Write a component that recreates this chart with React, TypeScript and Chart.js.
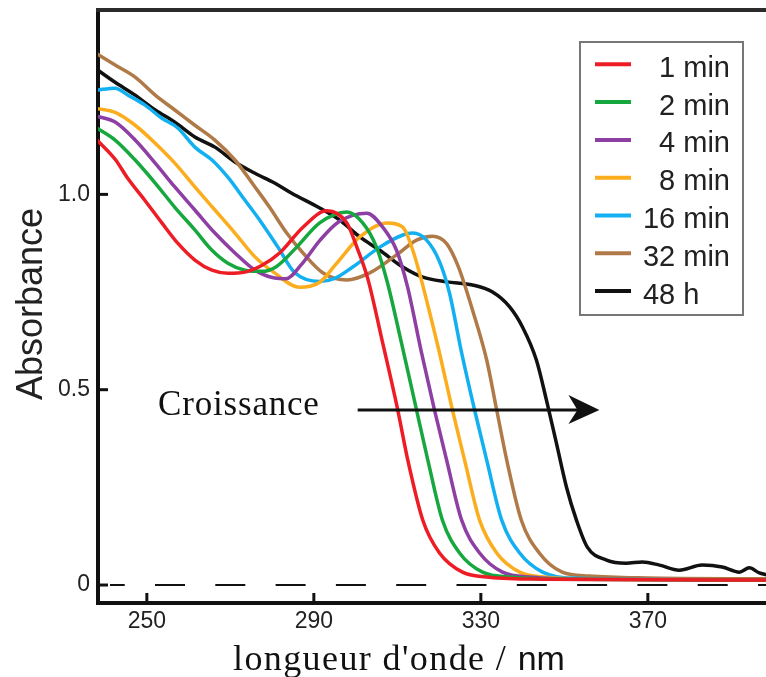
import React, { useEffect, useRef } from "react";
import { Chart, registerables } from "chart.js";

Chart.register(...registerables);

// ---- data ----
const seriesLabels = ["1 min", "2 min", "4 min", "8 min", "16 min", "32 min", "48 h"];
const seriesColors = ["#ee1c25", "#16a83e", "#8e3fa3", "#fbad1d", "#12b0f0", "#b07a48", "#111111"];

const wl1 = [238, 242.4, 245.5, 249.5, 253.6, 257.4, 261.5, 265.6, 269.4, 273.5, 277.5, 281.8, 287.4, 293.1, 297.9, 300.3, 302.9, 306.5, 310.1, 312.5, 316.1, 320.1, 325.6, 332, 345, 398.5];
const abs1 = [1.14, 1.09, 1.04, 0.985, 0.927, 0.875, 0.832, 0.806, 0.798, 0.801, 0.818, 0.85, 0.916, 0.958, 0.927, 0.865, 0.785, 0.619, 0.448, 0.32, 0.166, 0.082, 0.033, 0.02, 0.015, 0.013];

const wl2 = [238, 242.4, 247.2, 252, 256.7, 261.5, 265.6, 269.4, 273.5, 277.5, 281, 285.9, 291.4, 297.9, 301.7, 305, 307.6, 311, 314.6, 317.3, 320.8, 324.9, 330.4, 337.6, 350, 398.5];
const abs2 = [1.17, 1.139, 1.088, 1.029, 0.967, 0.909, 0.857, 0.824, 0.806, 0.803, 0.815, 0.865, 0.927, 0.955, 0.927, 0.865, 0.775, 0.619, 0.448, 0.32, 0.166, 0.082, 0.033, 0.02, 0.015, 0.013];

const wl3 = [238, 242.4, 247.2, 252, 256.7, 261.5, 266.3, 271.1, 275.9, 280.6, 283.3, 287, 291.5, 296, 302.7, 306.5, 309.8, 312.4, 315.8, 318.9, 321.8, 325.4, 329.7, 335.2, 342.4, 355, 398.5];
const abs3 = [1.2, 1.185, 1.139, 1.08, 1.019, 0.96, 0.901, 0.85, 0.806, 0.786, 0.784, 0.82, 0.883, 0.93, 0.952, 0.916, 0.857, 0.765, 0.594, 0.448, 0.32, 0.166, 0.082, 0.033, 0.02, 0.015, 0.013];

const wl4 = [238, 242.4, 247.2, 252, 256.7, 261.5, 266.3, 271.1, 275.9, 280.6, 286.6, 291.4, 295.5, 301, 307.5, 311.3, 313.7, 315.3, 317, 320.1, 323.2, 326.1, 329.7, 333.8, 339.3, 345.7, 358, 398.5];
const abs4 = [1.22, 1.21, 1.177, 1.131, 1.08, 1.019, 0.96, 0.901, 0.84, 0.799, 0.762, 0.775, 0.824, 0.891, 0.927, 0.916, 0.857, 0.799, 0.729, 0.594, 0.448, 0.32, 0.166, 0.082, 0.033, 0.02, 0.015, 0.013];

const wl5 = [238, 242.4, 245.5, 249.5, 253.6, 257.4, 261.5, 265.6, 269.4, 273.5, 277.5, 281.4, 285.4, 291.4, 295, 299.3, 305.8, 311.3, 313.7, 317, 320.1, 322.5, 325.4, 328.5, 331.4, 335, 339.3, 344.8, 352, 398.5];
const abs5 = [1.267, 1.272, 1.254, 1.229, 1.195, 1.17, 1.121, 1.088, 1.044, 0.985, 0.927, 0.865, 0.8, 0.777, 0.785, 0.814, 0.865, 0.896, 0.901, 0.883, 0.828, 0.747, 0.594, 0.448, 0.32, 0.166, 0.082, 0.033, 0.018, 0.013];

const wl6 = [238, 242.4, 247.2, 252, 256.7, 261.5, 266.3, 271.1, 275.9, 279.4, 283.5, 287.4, 292.2, 297.9, 303.4, 309.8, 314.6, 318.4, 321.8, 324.6, 328, 331.4, 333.8, 336.2, 339.7, 344, 349.5, 356, 370, 398.5];
const abs6 = [1.36, 1.331, 1.3, 1.254, 1.216, 1.177, 1.139, 1.088, 1.019, 0.967, 0.901, 0.85, 0.799, 0.781, 0.799, 0.845, 0.883, 0.893, 0.874, 0.815, 0.704, 0.576, 0.448, 0.32, 0.166, 0.082, 0.033, 0.023, 0.018, 0.016];

const wl7 = [238, 242.4, 247.2, 252, 256.7, 261.5, 266.3, 271.1, 275.9, 280.6, 284.7, 291.4, 296.2, 301, 305.8, 311.3, 316.1, 321.8, 328, 332.8, 336.9, 340, 343.3, 345.7, 348.1, 350.5, 352.9, 355.5, 360.1, 364.8, 368.7, 372.8, 377.5, 383, 387.8, 391.9, 394.3, 396.7, 398.5];
const abs7 = [1.32, 1.287, 1.254, 1.216, 1.185, 1.147, 1.121, 1.083, 1.054, 1.029, 1.003, 0.965, 0.934, 0.891, 0.857, 0.814, 0.788, 0.776, 0.768, 0.75, 0.712, 0.66, 0.576, 0.474, 0.363, 0.251, 0.166, 0.097, 0.064, 0.056, 0.059, 0.051, 0.038, 0.051, 0.046, 0.033, 0.044, 0.031, 0.026];

const xTicks = [250, 290, 330, 370];
const yTicks = [0, 0.5, 1.0];
const yTickLabels = ["0", "0.5", "1.0"];

const X_MIN = 238.3;
const X_MAX = 398.3;
const Y_MIN = -0.046;
const Y_MAX = 1.472;

const SANS = '"Liberation Sans", Arial, Helvetica, sans-serif';
const SERIF = '"Liberation Serif", "Times New Roman", serif';

const decorPlugin = {
  id: "decor",
  beforeDatasetsDraw(chart: any) {
    const { ctx, chartArea: ca, scales } = chart;
    const y0 = scales.y.getPixelForValue(0);
    ctx.save();
    ctx.beginPath();
    ctx.rect(ca.left, ca.top, ca.right - ca.left, ca.bottom - ca.top);
    ctx.clip();
    ctx.setLineDash([30, 30.3]);
    ctx.lineDashOffset = 15.3;
    ctx.strokeStyle = "#111";
    ctx.lineWidth = 2;
    ctx.beginPath();
    ctx.moveTo(ca.left + 12, y0);
    ctx.lineTo(ca.right, y0);
    ctx.stroke();
    ctx.restore();
  },
  afterDraw(chart: any) {
    const { ctx, chartArea: ca, scales } = chart;
    const xs = scales.x;
    const ys = scales.y;
    ctx.save();
    // top frame
    ctx.strokeStyle = "#2b2b2b";
    ctx.lineWidth = 4;
    ctx.beginPath();
    ctx.moveTo(ca.left - 2, ca.top);
    ctx.lineTo(ca.right, ca.top);
    ctx.stroke();
    // inward ticks
    ctx.strokeStyle = "#111";
    ctx.lineWidth = 3;
    yTicks.forEach((v) => {
      const y = ys.getPixelForValue(v);
      ctx.beginPath();
      ctx.moveTo(ca.left, y);
      ctx.lineTo(ca.left + 10, y);
      ctx.stroke();
    });
    xTicks.forEach((v) => {
      const x = xs.getPixelForValue(v);
      ctx.beginPath();
      ctx.moveTo(x, ca.bottom);
      ctx.lineTo(x, ca.bottom - 10);
      ctx.stroke();
    });

    // y title
    ctx.fillStyle = "#222";
    ctx.font = `36px ${SANS}`;
    ctx.save();
    ctx.translate(42, 304);
    ctx.rotate(-Math.PI / 2);
    ctx.textAlign = "center";
    ctx.textBaseline = "alphabetic";
    ctx.fillText("Absorbance", 0, 0);
    ctx.restore();

    // x title (serif + sans unit)
    ctx.textAlign = "left";
    ctx.textBaseline = "alphabetic";
    ctx.fillStyle = "#111";
    ctx.font = `36px ${SERIF}`;
    (ctx as any).letterSpacing = "1.4px";
    const part1 = "longueur d'onde / ";
    ctx.fillText(part1, 233, 670);
    const w1 = ctx.measureText(part1).width;
    ctx.font = `34px ${SANS}`;
    (ctx as any).letterSpacing = "0px";
    ctx.fillText("nm", 233 + w1, 670);

    // annotation
    ctx.font = `35px ${SERIF}`;
    (ctx as any).letterSpacing = "0.8px";
    ctx.fillStyle = "#111";
    ctx.fillText("Croissance", xs.getPixelForValue(252.7), ys.getPixelForValue(0.435));
    (ctx as any).letterSpacing = "0px";

    const ay = ys.getPixelForValue(0.448);
    const ax0 = xs.getPixelForValue(300.5);
    const ax1 = xs.getPixelForValue(358.4);
    ctx.strokeStyle = "#111";
    ctx.lineWidth = 3;
    ctx.beginPath();
    ctx.moveTo(ax0, ay);
    ctx.lineTo(ax1 - 20, ay);
    ctx.stroke();
    ctx.fillStyle = "#111";
    ctx.beginPath();
    ctx.moveTo(ax1, ay);
    ctx.lineTo(ax1 - 31, ay - 15);
    ctx.lineTo(ax1 - 22, ay);
    ctx.lineTo(ax1 - 31, ay + 14);
    ctx.closePath();
    ctx.fill();

    // legend
    const bx = 580, by = 42, bw = 163, bh = 273;
    ctx.fillStyle = "#fff";
    ctx.fillRect(bx, by, bw, bh);
    ctx.strokeStyle = "#777";
    ctx.lineWidth = 2;
    ctx.strokeRect(bx, by, bw, bh);
    ctx.font = `29px ${SANS}`;
    ctx.textAlign = "left";
    ctx.textBaseline = "alphabetic";
    const widest = Math.max(...chart.data.datasets.map((d: any) => ctx.measureText(d.label).width));
    chart.data.datasets.forEach((ds: any, i: number) => {
      const ly = 64.3 + i * 37.8;
      ctx.strokeStyle = ds.borderColor;
      ctx.lineWidth = 4;
      ctx.beginPath();
      ctx.moveTo(595, ly);
      ctx.lineTo(631, ly);
      ctx.stroke();
      ctx.fillStyle = "#222";
      const w = ctx.measureText(ds.label).width;
      const isMin = /min$/.test(ds.label);
      const tx = isMin ? 730 - w : 730 - widest;
      ctx.fillText(ds.label, tx, ly + 12.4);
    });
    ctx.restore();
  },
};

export default function App() {
  const ref = useRef<HTMLCanvasElement>(null);
  useEffect(() => {
    const canvas = ref.current;
    if (!canvas) return;
    const wls = [wl1, wl2, wl3, wl4, wl5, wl6, wl7];
    const abss = [abs1, abs2, abs3, abs4, abs5, abs6, abs7];
    const datasets = seriesLabels.map((label, i) => ({
      label,
      data: wls[i].map((x, j) => ({ x, y: abss[i][j] })),
      borderColor: seriesColors[i],
      backgroundColor: seriesColors[i],
      borderWidth: 3.5,
      pointRadius: 0,
      cubicInterpolationMode: "monotone" as const,
      fill: false,
    }));
    const zeroPad = (s: any) => {
      s.paddingTop = 0;
      s.paddingBottom = 0;
      s.paddingLeft = 0;
      s.paddingRight = 0;
    };
    const chart = new Chart(canvas, {
      type: "line",
      data: { datasets },
      options: {
        animation: false,
        responsive: false,
        devicePixelRatio: 1,
        layout: { padding: { top: 10, left: 0, right: 0, bottom: 0 } },
        plugins: { legend: { display: false }, tooltip: { enabled: false } },
        scales: {
          x: {
            type: "linear",
            min: X_MIN,
            max: X_MAX,
            grid: { display: false, drawTicks: false },
            border: { display: true, color: "#111", width: 4 },
            afterBuildTicks: (s: any) => {
              s.ticks = xTicks.map((v) => ({ value: v }));
            },
            afterFit: (s: any) => {
              s.height = 74;
              zeroPad(s);
            },
            ticks: {
              font: { family: SANS, size: 23 },
              color: "#222",
              padding: 5,
              maxRotation: 0,
              autoSkip: false,
              callback: (v: any) => String(v),
            },
          },
          y: {
            type: "linear",
            min: Y_MIN,
            max: Y_MAX,
            grid: { display: false, drawTicks: false },
            border: { display: true, color: "#111", width: 4 },
            afterBuildTicks: (s: any) => {
              s.ticks = yTicks.map((v) => ({ value: v }));
            },
            afterFit: (s: any) => {
              s.width = 98;
              zeroPad(s);
            },
            ticks: {
              font: { family: SANS, size: 23 },
              color: "#222",
              padding: 8,
              autoSkip: false,
              callback: (v: any) => {
                const idx = yTicks.indexOf(Number(v));
                return idx >= 0 ? yTickLabels[idx] : "";
              },
            },
          },
        },
      },
      plugins: [decorPlugin],
    });
    return () => chart.destroy();
  }, []);
  return (
    <div style={{ position: "absolute", left: 0, top: 0, width: 766, height: 677, background: "#fff" }}>
      <canvas ref={ref} width={766} height={677} style={{ width: 766, height: 677, display: "block" }} />
    </div>
  );
}
